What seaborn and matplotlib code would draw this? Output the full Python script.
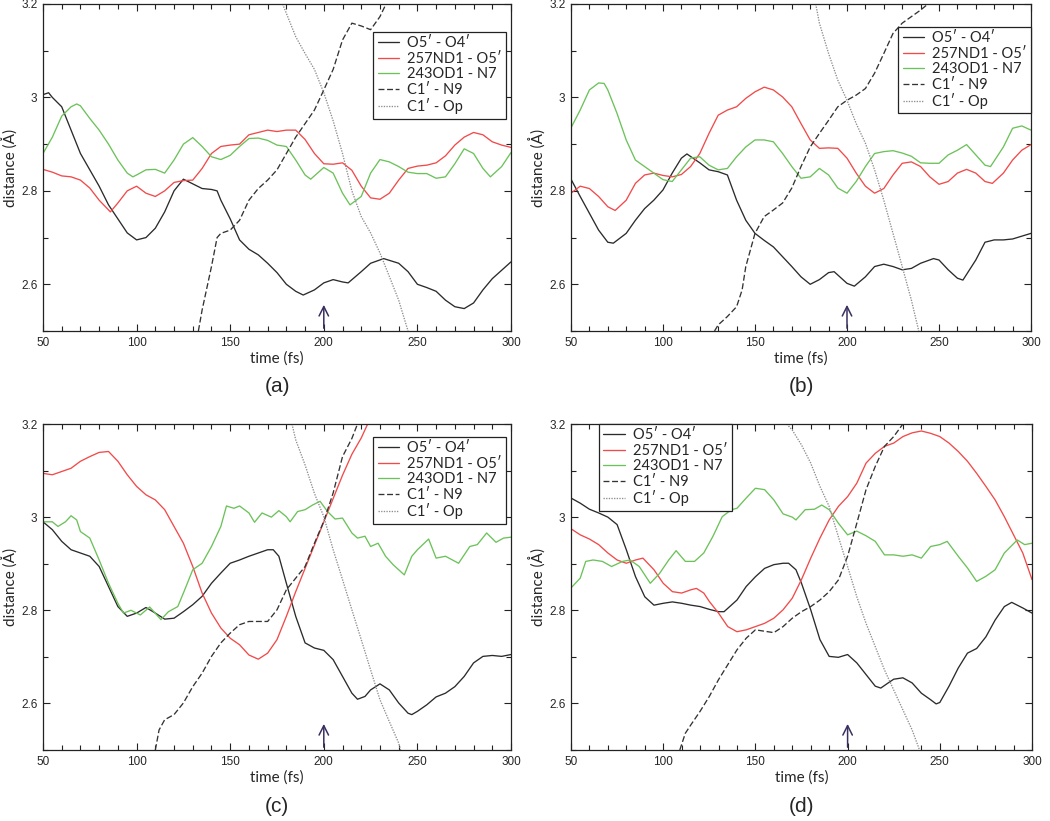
import matplotlib
matplotlib.use('Agg')
import matplotlib.pyplot as plt
from matplotlib.ticker import MultipleLocator, FuncFormatter
import seaborn as sns


# ---- data (time in fs, distance in Angstrom) ----
series_names = ["O5\u2032 - O4\u2032", "257ND1 - O5\u2032", "243OD1 - N7", "C1\u2032 - N9", "C1\u2032 - Op"]
panel_labels = ["(a)", "(b)", "(c)", "(d)"]

# panel (a)
a_o5o4_t = [50, 53, 55, 60, 65, 70, 75, 80, 85, 90, 95, 100, 105, 110, 115, 120, 125, 130, 135, 140, 143, 145, 150, 155, 160, 165, 170, 175, 180, 185, 189, 195, 200, 205, 210, 213, 220, 225, 232, 240, 245, 250, 255, 260, 265, 270, 275, 280, 285, 290, 295, 300]
a_o5o4_d = [3.006, 3.01, 3.0, 2.98, 2.93, 2.88, 2.845, 2.81, 2.77, 2.74, 2.71, 2.695, 2.70, 2.72, 2.755, 2.80, 2.825, 2.815, 2.805, 2.803, 2.80, 2.78, 2.74, 2.695, 2.675, 2.663, 2.645, 2.625, 2.60, 2.585, 2.577, 2.588, 2.603, 2.61, 2.605, 2.603, 2.627, 2.645, 2.655, 2.645, 2.627, 2.60, 2.593, 2.585, 2.566, 2.552, 2.548, 2.56, 2.588, 2.612, 2.63, 2.648]
a_nd1_t = [50, 55, 60, 65, 70, 75, 80, 86, 90, 95, 100, 105, 110, 115, 120, 125, 130, 135, 140, 145, 150, 155, 160, 165, 170, 175, 180, 185, 190, 195, 200, 205, 210, 215, 220, 225, 230, 235, 240, 245, 250, 255, 260, 265, 270, 275, 280, 285, 290, 295, 300]
a_nd1_d = [2.846, 2.84, 2.832, 2.83, 2.823, 2.806, 2.78, 2.755, 2.774, 2.80, 2.81, 2.795, 2.788, 2.80, 2.818, 2.822, 2.823, 2.848, 2.88, 2.895, 2.898, 2.90, 2.92, 2.925, 2.93, 2.927, 2.93, 2.93, 2.91, 2.88, 2.858, 2.857, 2.86, 2.844, 2.81, 2.785, 2.782, 2.795, 2.823, 2.848, 2.853, 2.855, 2.86, 2.875, 2.898, 2.915, 2.925, 2.92, 2.905, 2.898, 2.893]
a_od1_t = [50, 55, 60, 65, 68, 70, 75, 80, 85, 90, 95, 98, 100, 105, 110, 115, 120, 125, 130, 135, 140, 145, 150, 155, 160, 165, 170, 175, 180, 185, 190, 193, 200, 205, 210, 214, 220, 225, 230, 235, 240, 245, 250, 255, 260, 265, 270, 275, 280, 285, 289, 295, 300]
a_od1_d = [2.88, 2.915, 2.96, 2.98, 2.986, 2.982, 2.955, 2.93, 2.90, 2.866, 2.838, 2.83, 2.834, 2.845, 2.846, 2.838, 2.866, 2.90, 2.914, 2.895, 2.873, 2.867, 2.876, 2.895, 2.912, 2.913, 2.908, 2.898, 2.895, 2.866, 2.834, 2.825, 2.85, 2.838, 2.795, 2.77, 2.788, 2.838, 2.867, 2.862, 2.852, 2.84, 2.837, 2.837, 2.827, 2.83, 2.858, 2.89, 2.88, 2.848, 2.83, 2.852, 2.882]
a_n9_t = [133, 135, 140, 143, 145, 150, 155, 160, 165, 170, 175, 180, 185, 190, 195, 200, 205, 210, 215, 220, 225, 230, 233]
a_n9_d = [2.50, 2.545, 2.638, 2.70, 2.709, 2.716, 2.737, 2.78, 2.805, 2.823, 2.845, 2.88, 2.915, 2.944, 2.973, 3.016, 3.06, 3.123, 3.159, 3.153, 3.145, 3.173, 3.198]
a_op_t = [178, 185, 190, 195, 200, 205, 210, 215, 220, 225, 230, 235, 240, 245]
a_op_d = [3.2, 3.13, 3.094, 3.06, 3.01, 2.95, 2.88, 2.80, 2.745, 2.71, 2.667, 2.617, 2.566, 2.50]

# panel (b)
b_o5o4_t = [50, 55, 60, 65, 70, 73, 80, 85, 90, 95, 100, 105, 110, 113, 120, 125, 130, 135, 140, 145, 150, 155, 160, 165, 170, 175, 180, 185, 190, 193, 200, 204, 210, 215, 220, 225, 230, 235, 240, 247, 250, 255, 260, 263, 270, 275, 280, 285, 290, 295, 300]
b_o5o4_d = [2.825, 2.788, 2.752, 2.716, 2.69, 2.688, 2.709, 2.737, 2.762, 2.78, 2.802, 2.838, 2.87, 2.879, 2.86, 2.845, 2.841, 2.834, 2.78, 2.737, 2.709, 2.694, 2.68, 2.659, 2.638, 2.616, 2.60, 2.61, 2.625, 2.627, 2.602, 2.596, 2.616, 2.638, 2.643, 2.638, 2.631, 2.634, 2.645, 2.655, 2.652, 2.631, 2.613, 2.609, 2.652, 2.69, 2.695, 2.695, 2.697, 2.703, 2.709]
b_nd1_t = [50, 55, 60, 65, 70, 74, 80, 85, 90, 95, 100, 105, 110, 115, 120, 125, 130, 135, 140, 145, 150, 155, 160, 165, 170, 175, 180, 185, 190, 195, 200, 205, 210, 215, 220, 225, 230, 235, 240, 245, 250, 255, 260, 265, 270, 275, 279, 285, 290, 295, 300]
b_nd1_d = [2.795, 2.81, 2.805, 2.788, 2.766, 2.758, 2.78, 2.816, 2.834, 2.838, 2.833, 2.83, 2.835, 2.852, 2.88, 2.923, 2.962, 2.973, 2.98, 2.998, 3.012, 3.022, 3.016, 3.001, 2.98, 2.944, 2.909, 2.891, 2.892, 2.891, 2.87, 2.838, 2.81, 2.795, 2.805, 2.834, 2.859, 2.862, 2.852, 2.83, 2.814, 2.82, 2.838, 2.846, 2.838, 2.82, 2.816, 2.838, 2.866, 2.887, 2.899]
b_od1_t = [50, 55, 60, 65, 68, 70, 75, 80, 85, 90, 95, 100, 105, 110, 115, 120, 125, 130, 135, 140, 145, 150, 155, 160, 165, 170, 175, 180, 185, 190, 195, 200, 205, 210, 215, 220, 225, 230, 235, 240, 245, 250, 255, 260, 265, 270, 275, 278, 285, 290, 295, 300]
b_od1_d = [2.935, 2.973, 3.016, 3.031, 3.03, 3.016, 2.966, 2.909, 2.866, 2.852, 2.838, 2.824, 2.82, 2.845, 2.87, 2.873, 2.855, 2.845, 2.848, 2.873, 2.894, 2.909, 2.909, 2.905, 2.88, 2.852, 2.827, 2.83, 2.848, 2.834, 2.806, 2.795, 2.82, 2.852, 2.88, 2.884, 2.886, 2.881, 2.874, 2.86, 2.859, 2.859, 2.877, 2.887, 2.899, 2.877, 2.855, 2.852, 2.894, 2.934, 2.939, 2.93]
b_n9_t = [128, 130, 135, 140, 143, 145, 150, 155, 160, 165, 170, 175, 180, 185, 190, 195, 200, 205, 210, 215, 220, 225, 230, 235, 240, 244]
b_n9_d = [2.50, 2.513, 2.531, 2.552, 2.588, 2.638, 2.709, 2.745, 2.759, 2.774, 2.806, 2.852, 2.894, 2.923, 2.951, 2.98, 2.994, 3.005, 3.019, 3.052, 3.094, 3.137, 3.159, 3.173, 3.187, 3.20]
b_op_t = [183, 185, 190, 195, 200, 205, 210, 215, 220, 225, 230, 235, 239]
b_op_d = [3.2, 3.159, 3.094, 3.037, 2.994, 2.944, 2.902, 2.845, 2.78, 2.709, 2.638, 2.566, 2.5]

# panel (c)
c_o5o4_t = [50, 55, 60, 65, 70, 75, 80, 85, 90, 95, 100, 105, 110, 115, 120, 125, 130, 135, 140, 145, 150, 155, 160, 165, 170, 173, 176, 180, 185, 190, 195, 200, 205, 210, 215, 218, 222, 225, 230, 235, 240, 245, 247, 250, 255, 260, 265, 270, 275, 280, 285, 290, 295, 300]
c_o5o4_d = [2.99, 2.973, 2.948, 2.93, 2.923, 2.916, 2.894, 2.851, 2.808, 2.787, 2.794, 2.806, 2.794, 2.781, 2.783, 2.797, 2.812, 2.83, 2.858, 2.88, 2.901, 2.908, 2.916, 2.923, 2.93, 2.93, 2.916, 2.858, 2.787, 2.73, 2.719, 2.714, 2.694, 2.658, 2.622, 2.609, 2.615, 2.629, 2.642, 2.629, 2.601, 2.579, 2.576, 2.583, 2.597, 2.614, 2.622, 2.636, 2.658, 2.687, 2.701, 2.703, 2.701, 2.705]
c_nd1_t = [50, 55, 60, 65, 70, 75, 80, 85, 90, 95, 100, 105, 110, 115, 120, 125, 130, 135, 140, 145, 150, 155, 160, 165, 170, 175, 180, 185, 190, 195, 200, 205, 210, 215, 220, 224]
c_nd1_d = [3.094, 3.091, 3.098, 3.105, 3.12, 3.13, 3.139, 3.141, 3.12, 3.091, 3.066, 3.048, 3.037, 3.016, 2.98, 2.944, 2.894, 2.837, 2.794, 2.762, 2.74, 2.726, 2.704, 2.695, 2.708, 2.737, 2.787, 2.84, 2.89, 2.94, 2.99, 3.04, 3.09, 3.135, 3.17, 3.205]
c_od1_t = [50, 55, 58, 62, 65, 68, 70, 75, 80, 85, 90, 93, 97, 102, 107, 113, 117, 122, 125, 130, 135, 140, 145, 148, 152, 155, 160, 163, 167, 172, 176, 180, 182, 186, 190, 194, 198, 202, 206, 210, 215, 218, 222, 225, 229, 233, 237, 243, 247, 250, 256, 260, 265, 272, 278, 282, 287, 292, 296, 300]
c_od1_d = [2.99, 2.99, 2.98, 2.99, 3.003, 2.994, 2.969, 2.955, 2.908, 2.858, 2.815, 2.794, 2.80, 2.79, 2.807, 2.78, 2.797, 2.808, 2.837, 2.887, 2.901, 2.937, 2.98, 3.024, 3.019, 3.024, 3.009, 2.989, 3.009, 3.0, 3.014, 3.001, 2.99, 3.012, 3.016, 3.026, 3.034, 3.012, 2.996, 2.998, 2.966, 2.955, 2.959, 2.937, 2.944, 2.916, 2.898, 2.876, 2.916, 2.93, 2.953, 2.912, 2.916, 2.901, 2.937, 2.941, 2.966, 2.946, 2.955, 2.957]
c_n9_t = [110, 112, 115, 120, 125, 130, 135, 140, 145, 150, 155, 160, 165, 170, 175, 180, 185, 190, 195, 200, 205, 210, 215, 218]
c_n9_d = [2.5, 2.543, 2.565, 2.576, 2.601, 2.636, 2.665, 2.701, 2.73, 2.751, 2.769, 2.776, 2.776, 2.776, 2.801, 2.844, 2.869, 2.894, 2.944, 2.991, 3.052, 3.13, 3.169, 3.2]
c_op_t = [183, 185, 190, 195, 200, 205, 210, 215, 220, 225, 230, 235, 240, 241]
c_op_d = [3.2, 3.166, 3.112, 3.051, 3.001, 2.93, 2.866, 2.801, 2.737, 2.672, 2.608, 2.561, 2.515, 2.5]

# panel (d)
d_o5o4_t = [50, 55, 60, 65, 70, 75, 80, 85, 90, 95, 100, 105, 110, 115, 120, 125, 130, 133, 140, 145, 150, 155, 160, 165, 168, 172, 175, 180, 185, 190, 195, 200, 205, 210, 215, 218, 222, 225, 230, 235, 240, 245, 248, 250, 255, 260, 265, 270, 275, 280, 285, 289, 295, 300]
d_o5o4_d = [3.041, 3.03, 3.017, 3.009, 3.0, 2.984, 2.93, 2.872, 2.829, 2.811, 2.815, 2.818, 2.815, 2.811, 2.808, 2.802, 2.797, 2.797, 2.822, 2.851, 2.872, 2.89, 2.898, 2.901, 2.901, 2.887, 2.858, 2.801, 2.737, 2.701, 2.699, 2.705, 2.687, 2.662, 2.637, 2.633, 2.644, 2.652, 2.655, 2.644, 2.622, 2.608, 2.599, 2.602, 2.637, 2.676, 2.708, 2.718, 2.743, 2.779, 2.808, 2.817, 2.805, 2.794]
d_nd1_t = [50, 55, 60, 65, 70, 75, 80, 85, 89, 95, 100, 105, 110, 115, 118, 122, 125, 130, 135, 140, 145, 150, 155, 160, 165, 170, 175, 180, 185, 190, 195, 200, 205, 210, 215, 220, 225, 230, 235, 240, 245, 250, 255, 260, 265, 270, 275, 280, 285, 290, 295, 300]
d_nd1_d = [2.975, 2.962, 2.953, 2.941, 2.923, 2.908, 2.901, 2.908, 2.912, 2.887, 2.858, 2.84, 2.837, 2.844, 2.847, 2.837, 2.819, 2.794, 2.765, 2.754, 2.758, 2.765, 2.772, 2.783, 2.801, 2.826, 2.866, 2.912, 2.955, 2.994, 3.023, 3.044, 3.073, 3.116, 3.137, 3.152, 3.159, 3.173, 3.181, 3.185, 3.18, 3.173, 3.159, 3.141, 3.12, 3.094, 3.066, 3.037, 3.001, 2.962, 2.923, 2.866]
d_od1_t = [50, 55, 58, 62, 67, 72, 78, 82, 87, 90, 93, 98, 103, 107, 112, 117, 122, 127, 132, 137, 140, 145, 150, 155, 160, 165, 170, 172, 177, 182, 186, 190, 195, 200, 205, 210, 215, 220, 225, 230, 235, 240, 245, 250, 254, 260, 265, 270, 275, 280, 285, 292, 296, 300]
d_od1_d = [2.848, 2.869, 2.905, 2.908, 2.905, 2.894, 2.905, 2.908, 2.894, 2.876, 2.858, 2.879, 2.908, 2.928, 2.905, 2.905, 2.923, 2.959, 3.001, 3.016, 3.019, 3.041, 3.062, 3.059, 3.037, 3.007, 3.0, 2.994, 3.016, 3.017, 3.026, 3.016, 2.987, 2.962, 2.97, 2.96, 2.948, 2.919, 2.919, 2.916, 2.919, 2.912, 2.937, 2.941, 2.948, 2.916, 2.891, 2.862, 2.873, 2.887, 2.923, 2.951, 2.941, 2.944]
d_n9_t = [109, 112, 115, 120, 125, 130, 135, 140, 145, 150, 155, 160, 165, 170, 175, 180, 185, 190, 195, 200, 205, 210, 215, 220, 225, 230]
d_n9_d = [2.5, 2.536, 2.554, 2.583, 2.615, 2.651, 2.683, 2.715, 2.74, 2.758, 2.755, 2.752, 2.765, 2.783, 2.797, 2.808, 2.822, 2.84, 2.865, 2.916, 2.987, 3.059, 3.109, 3.152, 3.173, 3.2]
d_op_t = [167, 170, 175, 180, 185, 190, 195, 200, 205, 210, 215, 220, 225, 230, 235, 239]
d_op_d = [3.2, 3.187, 3.155, 3.116, 3.066, 3.023, 2.958, 2.894, 2.829, 2.772, 2.722, 2.672, 2.629, 2.586, 2.543, 2.5]

arrow_time = 200


sns.set_theme(style='ticks')
plt.rcParams['font.family'] = ['Lato', 'DejaVu Sans']

line_styles = [
    dict(color='#2b2b2b', linestyle='-'),
    dict(color='#f24a4a', linestyle='-'),
    dict(color='#6cc25a', linestyle='-'),
    dict(color='#333333', linestyle=(0, (4.5, 2))),
    dict(color='#8c8c8c', linestyle=(0, (1, 1))),
]

panels = [
    [(a_o5o4_t, a_o5o4_d), (a_nd1_t, a_nd1_d), (a_od1_t, a_od1_d), (a_n9_t, a_n9_d), (a_op_t, a_op_d)],
    [(b_o5o4_t, b_o5o4_d), (b_nd1_t, b_nd1_d), (b_od1_t, b_od1_d), (b_n9_t, b_n9_d), (b_op_t, b_op_d)],
    [(c_o5o4_t, c_o5o4_d), (c_nd1_t, c_nd1_d), (c_od1_t, c_od1_d), (c_n9_t, c_n9_d), (c_op_t, c_op_d)],
    [(d_o5o4_t, d_o5o4_d), (d_nd1_t, d_nd1_d), (d_od1_t, d_od1_d), (d_n9_t, d_n9_d), (d_op_t, d_op_d)],
]

# axes boxes in figure pixels: left, top, right, bottom
W, H = 1050, 821
boxes = [(43, 4, 511, 331), (571, 4, 1031, 331), (43, 424, 511, 750), (571, 424, 1032, 750)]
# legend placement (loc, anchor in axes coords)
legend_place = [('upper right', (0.989, 0.914)), ('upper right', (1.0, 0.930)),
                ('upper right', (0.989, 0.960)), ('upper left', (0.061, 1.0))]

fig = plt.figure(figsize=(W / 100, H / 100), dpi=100)

for i, series in enumerate(panels):
    l, t, r, b = boxes[i]
    ax = fig.add_axes([l / W, 1 - b / H, (r - l) / W, (b - t) / H])
    for j, (tt, dd) in enumerate(series):
        sns.lineplot(x=tt, y=dd, ax=ax, lw=0.95, label=series_names[j], estimator=None, sort=False, **line_styles[j])

    ax.set_xlim(50, 300)
    ax.set_ylim(2.5, 3.2)
    ax.xaxis.set_major_locator(MultipleLocator(50))
    ax.xaxis.set_minor_locator(MultipleLocator(10))
    ax.yaxis.set_major_locator(MultipleLocator(0.2))
    ax.yaxis.set_minor_locator(MultipleLocator(0.1))
    ax.yaxis.set_major_formatter(FuncFormatter(lambda v, p: '%g' % round(v, 2)))
    ax.tick_params(which='both', direction='in', top=True, right=True, color='#222222', width=0.8, labelsize=8.5, pad=4)
    ax.tick_params(which='major', length=5)
    ax.tick_params(which='minor', length=3.5)
    for lab in ax.get_xticklabels() + ax.get_yticklabels():
        lab.set_family(['Liberation Sans', 'DejaVu Sans'])
    for s in ax.spines.values():
        s.set_color('#222222')
        s.set_linewidth(0.9)

    ax.set_xlabel('time (fs)', fontsize=11, labelpad=2)
    ax.set_ylabel('distance (\u00c5)', fontsize=11, labelpad=2)

    ax.annotate('', xy=(arrow_time, 2.562), xytext=(arrow_time, 2.5),
                arrowprops=dict(arrowstyle='->', color='#3a3060', lw=1.1, mutation_scale=17))

    loc, anchor = legend_place[i]
    leg = ax.legend(loc=loc, bbox_to_anchor=anchor, borderaxespad=0,
                    frameon=True, fancybox=False, fontsize=10.5, handlelength=1.45,
                    handletextpad=0.55, borderpad=0.3, labelspacing=0.1)
    leg.get_frame().set_edgecolor('#222222')
    leg.get_frame().set_linewidth(0.9)
    leg.get_frame().set_alpha(1)

    fig.text(((l + r) / 2) / W, 1 - (b + 56) / H, panel_labels[i], ha='center', va='center',
             fontsize=15, family=['Liberation Sans', 'DejaVu Sans'])

fig.savefig('out.png', dpi=100)
